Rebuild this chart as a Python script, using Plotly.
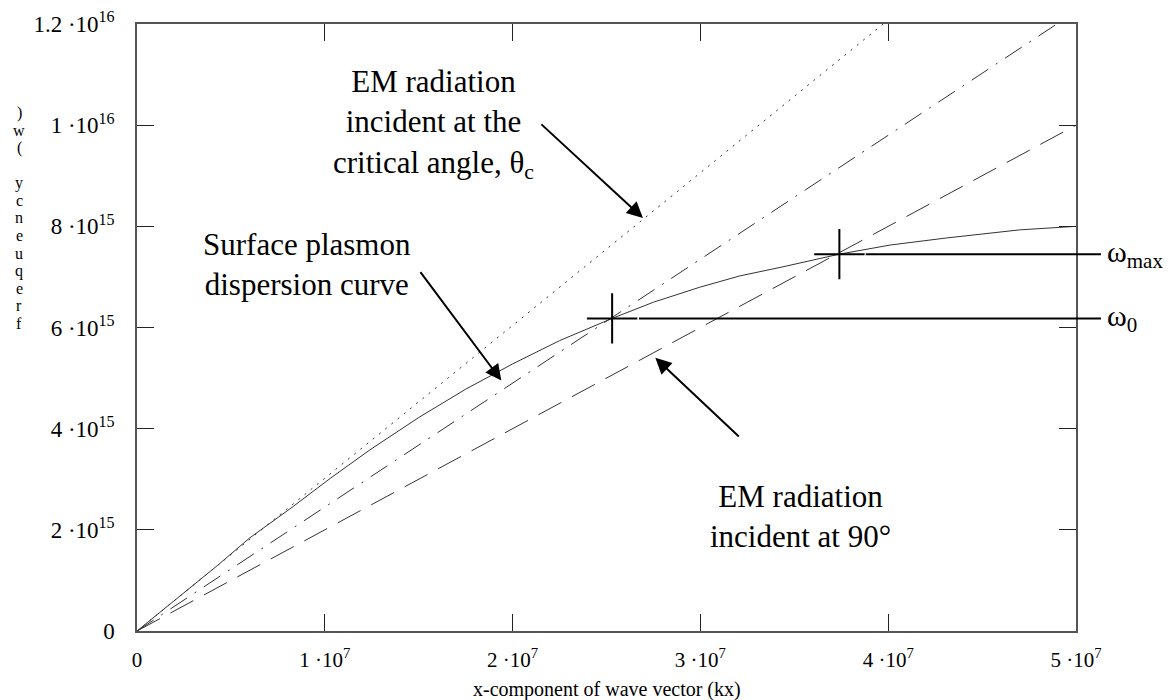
import plotly.graph_objects as go

# ---------------- data ----------------
kx_lines = [0, 1e7, 2e7, 3e7, 4e7, 5e7]
w_critical = [0, 3.02e15, 6.04e15, 9.06e15, 1.208e16]          # dotted, EM at critical angle
w_dashdot = [0, 2.45e15, 4.90e15, 7.35e15, 9.80e15, 1.225e16]    # dash-dot
w_90deg = [0, 2.0e15, 4.0e15, 6.0e15, 8.0e15, 1.0e16]            # dashed, EM at 90 deg

kx_sp = [0, 0.19e7, 0.43e7, 0.60e7, 0.82e7, 1.03e7, 1.24e7, 1.5e7, 1.75e7, 2.0e7,
         2.25e7, 2.53e7, 2.75e7, 3.0e7, 3.21e7, 3.44e7, 3.74e7, 4.01e7, 4.31e7, 4.70e7, 5.0e7]
w_sp = [0, 0.57e15, 1.30e15, 1.84e15, 2.43e15, 3.02e15, 3.58e15, 4.22e15, 4.78e15, 5.28e15,
        5.74e15, 6.18e15, 6.50e15, 6.80e15, 7.02e15, 7.20e15, 7.45e15, 7.63e15, 7.77e15, 7.93e15, 8.0e15]

mark_kx = [2.53e7, 3.74e7]
mark_w = [6.18e15, 7.45e15]
mark_labels = ["ω<sub>0</sub>", "ω<sub>max</sub>"]

x_tickvals = [0, 1e7, 2e7, 3e7, 4e7, 5e7]
x_ticktext = ["0", "1 ·10<sup>7</sup>", "2 ·10<sup>7</sup>", "3 ·10<sup>7</sup>",
              "4 ·10<sup>7</sup>", "5 ·10<sup>7</sup>"]
y_tickvals = [0, 2e15, 4e15, 6e15, 8e15, 1e16, 1.2e16]
y_ticktext = ["0", "2 ·10<sup>15</sup>", "4 ·10<sup>15</sup>", "6 ·10<sup>15</sup>",
              "8 ·10<sup>15</sup>", "1 ·10<sup>16</sup>", "1.2 ·10<sup>16</sup>"]

x_title = "x-component of wave vector (kx)"
y_title = "frequency (w)"

FONT = "Liberation Serif, Times New Roman, serif"

fig = go.Figure()
fig.add_trace(go.Scatter(x=kx_lines[:len(w_critical)], y=w_critical, mode="lines",
                         line=dict(color="#333", width=1, dash="2px,6px"), showlegend=False))
fig.add_trace(go.Scatter(x=kx_lines, y=w_dashdot, mode="lines",
                         line=dict(color="#333", width=1, dash="20px,9px,2px,9px"), showlegend=False))
fig.add_trace(go.Scatter(x=kx_lines, y=w_90deg, mode="lines",
                         line=dict(color="#333", width=1, dash="26px,12px"), showlegend=False))
fig.add_trace(go.Scatter(x=kx_sp, y=w_sp, mode="lines",
                         line=dict(color="#333", width=1), showlegend=False))
fig.add_trace(go.Scatter(x=mark_kx, y=mark_w, mode="markers",
                         marker=dict(symbol="cross-thin", size=36, line=dict(color="black", width=2)),
                         showlegend=False))

# horizontal lines from the markers to the omega labels
line_starts = [0.5346, 0.776]
for xs, w in zip(line_starts, mark_w):
    fig.add_shape(type="line", xref="paper", yref="y", x0=xs, x1=1.0266, y0=w, y1=w,
                  line=dict(color="black", width=2))
for lab, w in zip(mark_labels, mark_w):
    fig.add_annotation(xref="paper", yref="y", x=1.031, y=w, text=lab, showarrow=False,
                       xanchor="left", yanchor="middle", font=dict(family=FONT, size=30, color="black"))

big = dict(family=FONT, size=31, color="black")
# text labels
fig.add_annotation(xref="paper", yref="paper", x=(433 - 137) / 939, y=(631 - 124) / 607,
                   text="EM radiation<br>incident at the<br>critical angle, θ<sub>c</sub>",
                   showarrow=False, font=big, align="center", xanchor="center", yanchor="middle")
fig.add_annotation(xref="paper", yref="paper", x=(307 - 137) / 939, y=(631 - 264) / 607,
                   text="Surface plasmon<br>dispersion curve",
                   showarrow=False, font=big, align="center", xanchor="center", yanchor="middle")
fig.add_annotation(xref="paper", yref="paper", x=(800 - 137) / 939, y=(631 - 516) / 607,
                   text="EM radiation<br>incident at 90°",
                   showarrow=False, font=big, align="center", xanchor="center", yanchor="middle")

# arrows (tip in data coords, tail as pixel offset)
arrow = dict(showarrow=True, arrowhead=2, arrowsize=1.6, arrowwidth=2, arrowcolor="black",
             text="", xref="x", yref="y")
fig.add_annotation(x=2.694e7, y=8.165e15, ax=-103, ay=-95, **arrow)
fig.add_annotation(x=1.94e7, y=4.95e15, ax=-82, ay=-110, **arrow)
fig.add_annotation(x=2.76e7, y=5.4e15, ax=85, ay=80, **arrow)

# y-axis title as stacked (reversed) letters
for i, ch in enumerate(reversed(y_title)):
    if ch == " ":
        continue
    fig.add_annotation(xref="paper", yref="paper", x=(19 - 137) / 939,
                       y=(631 - (113 + 17.5 * i)) / 607, text=ch, showarrow=False,
                       xanchor="center", yanchor="middle",
                       font=dict(family=FONT, size=16, color="black"))

# x-axis title
fig.add_annotation(xref="paper", yref="paper", x=0.5, y=(631 - 689) / 607, text=x_title,
                   showarrow=False, xanchor="center", yanchor="middle",
                   font=dict(family=FONT, size=20, color="black"))

axis_common = dict(showline=True, linecolor="#555", linewidth=1.5, mirror="ticks",
                   ticks="inside", ticklen=17, tickwidth=1, tickcolor="#222",
                   showgrid=False, zeroline=False, automargin=False)
fig.update_xaxes(range=[0, 5e7], tickmode="array", tickvals=x_tickvals, ticktext=x_ticktext,
                 ticklabelstandoff=9, tickfont=dict(family=FONT, size=21, color="black"),
                 **axis_common)
fig.update_yaxes(range=[0, 1.2e16], tickmode="array", tickvals=y_tickvals, ticktext=y_ticktext,
                 ticklabelstandoff=16, tickfont=dict(family=FONT, size=23, color="black"),
                 **axis_common)

fig.update_layout(width=1176, height=700, margin=dict(l=137, r=100, t=24, b=69, pad=0, autoexpand=False),
                  paper_bgcolor="white", plot_bgcolor="white",
                  font=dict(family=FONT, color="black"))

fig.write_html("out.html")
